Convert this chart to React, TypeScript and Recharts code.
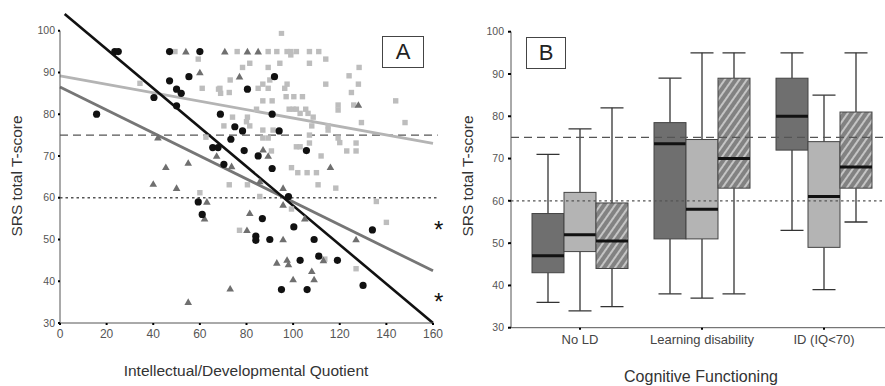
import React from 'react';
import {
  ScatterChart,
  Scatter,
  XAxis,
  YAxis,
  ReferenceLine,
  ComposedChart,
  Bar,
} from 'recharts';

// ---------- Panel A data ----------
const xTicksA = [0, 20, 40, 60, 80, 100, 120, 140, 160];
const yTicks = [30, 40, 50, 60, 70, 80, 90, 100];

const blackCircles: [number, number][] = [
  [15.7, 80], [23.5, 95], [25, 95], [40.3, 84], [47, 95], [60, 95], [47, 88], [50, 86],
  [52, 85], [50, 82], [55.3, 89], [65.5, 72], [67.8, 72], [68.8, 80], [92, 89], [80.4, 86],
  [91, 80], [75, 77], [78.3, 76], [94, 76], [73.3, 74], [70.3, 68], [79, 71.3], [85, 70],
  [105.7, 71.3], [91, 67], [98, 60.3], [59.3, 59], [61, 56], [86.8, 55], [84, 50.8],
  [84, 49.8], [90, 50], [100.3, 53], [109, 50], [103, 45], [111, 46], [119, 45], [95, 38],
  [106, 38], [130, 39], [134, 52.3],
];

const grayTriangles: [number, number][] = [
  [54, 95], [60, 90], [42, 74.4], [45.4, 67.3], [55, 68.3], [40, 63.3], [50, 62.3],
  [67.2, 70], [70.7, 95], [80.4, 95], [85, 95], [77, 89], [128, 82.2], [116, 67.3],
  [73.6, 67.5], [89.3, 70], [87.1, 71.5], [95.7, 62.3], [85.7, 63.9], [63, 59], [62, 55],
  [55, 35], [81.4, 56.3], [80.2, 52.2], [95.7, 58.3], [105, 55], [95.7, 50], [93, 44.4],
  [97.4, 45.1], [98, 44], [100, 40.4], [108, 42.4], [109, 40.4], [73, 38.2], [113, 45],
  [127, 50],
];

const lightSquares: [number, number][] = [
  [95, 99.4], [76, 95], [89.3, 95], [93, 95], [97.4, 95], [99, 95], [101.4, 95], [107, 95],
  [111, 95], [49.3, 95], [59.3, 93.2], [99, 94.2], [81.4, 92.2], [94.3, 92.2], [107, 92.2],
  [114, 93.2], [128.3, 91.2], [78.3, 91.2], [89.3, 91.2], [73, 88.2], [90, 88.2], [87, 87.2],
  [85, 86.2], [89.3, 86.2], [97.4, 87.2], [124, 89.2], [128, 87.2], [114, 87.2], [68.6, 86.2],
  [68.9, 85], [72.6, 85.2], [96.4, 86.2], [125, 85.2], [97, 84.2], [100.3, 84.2], [104, 84.2],
  [87, 83.2], [91, 83.2], [144, 83.2], [126, 82.2], [119.3, 82.2], [119.3, 81], [98.3, 81.2],
  [100, 81.2], [101.4, 81.2], [105.4, 81.2], [106.4, 80.2], [84.3, 81.2], [103, 80.2],
  [74, 79.3], [80.4, 79.3], [108.6, 79.3], [80, 78.2], [129.3, 78], [148, 78], [70.3, 77.2],
  [81.4, 77.2], [87, 76.2], [91.4, 76.2], [108, 77.2], [115, 77.2], [115, 76.2], [107, 75],
  [87, 74.3], [89.3, 74.3], [119.3, 74.3], [120, 73.2], [107, 73.1], [101.4, 72.2],
  [103, 72.2], [127, 73.1], [123, 71.2], [127, 71.2], [90.7, 71.2], [112, 70], [99.3, 67.2],
  [102, 66], [106, 66], [110, 66], [72.6, 63.1], [80.4, 63.1], [110.7, 63.1], [118.3, 62.3],
  [85.7, 60.3], [34.3, 87.4], [61, 86.2], [62.6, 74.5], [60, 61.2], [68, 86], [99.3, 57.3],
  [77, 52.2], [135.7, 59.1], [140, 54.1], [127, 43], [113.6, 45.3],
];

// regression line endpoints [x, y]
const blackLine: [number, number][] = [[2, 104], [160, 30]];
const darkLine: [number, number][] = [[0, 86.5], [160, 42.5]];
const lightLine: [number, number][] = [[0, 89.2], [160, 73]];

// ---------- Panel B data ----------
const categories = ['No LD', 'Learning disability', 'ID (IQ<70)'];
// [min, q1, median, q3, max]
const boxDark = [
  [36, 43, 47, 57, 71],
  [38, 51, 73.5, 78.5, 89],
  [53, 72, 80, 89, 95],
];
const boxLight = [
  [34, 48, 52, 62, 77],
  [37, 51, 58, 74.5, 95],
  [39, 49, 61, 74, 85],
];
const boxHatch = [
  [35, 44, 50.5, 59.5, 82],
  [38, 63, 70, 89, 95],
  [55, 63, 68, 81, 95],
];

const toPts = (arr: [number, number][]) => arr.map(([x, y]) => ({ x, y }));
const seg = (arr: [number, number][]) => arr.map(([x, y]) => ({ x, y }));

const boxRows = categories.map((name, i) => ({
  name,
  dark: boxDark[i],
  light: boxLight[i],
  hatch: boxHatch[i],
}));

const FONT = '"Liberation Sans", Arial, Helvetica, sans-serif';

function makeBoxShape(key: 'dark' | 'light' | 'hatch', fill: string) {
  return (props: any) => {
    const { x, y, width, height, payload } = props;
    const vals: number[] = payload[key];
    const [mn, q1, md, q3, mx] = vals;
    const top = Math.min(y, y + height);
    const bot = Math.max(y, y + height);
    const py = (v: number) => bot - ((v - mn) / (mx - mn)) * (bot - top);
    const cx = x + width / 2;
    const capW = 23;
    const wc = '#333';
    return (
      <g>
        <line x1={cx} x2={cx} y1={py(mx)} y2={py(q3)} stroke={wc} strokeWidth={1.3} />
        <line x1={cx} x2={cx} y1={py(q1)} y2={py(mn)} stroke={wc} strokeWidth={1.3} />
        <line x1={cx - capW / 2} x2={cx + capW / 2} y1={py(mx)} y2={py(mx)} stroke={wc} strokeWidth={1.3} />
        <line x1={cx - capW / 2} x2={cx + capW / 2} y1={py(mn)} y2={py(mn)} stroke={wc} strokeWidth={1.3} />
        <rect x={x} y={py(q3)} width={width} height={py(q1) - py(q3)} fill={fill} stroke="#444" strokeWidth={1} />
        <line x1={x} x2={x + width} y1={py(md)} y2={py(md)} stroke="#111" strokeWidth={3} />
      </g>
    );
  };
}

const circleShape = (p: any) => <circle cx={p.cx} cy={p.cy} r={3.6} fill="#111" />;
const triShape = (p: any) => (
  <polygon
    points={`${p.cx},${p.cy - 3.8} ${p.cx + 3.8},${p.cy + 2.8} ${p.cx - 3.8},${p.cy + 2.8}`}
    fill="#6f6f6f"
  />
);
const sqShape = (p: any) => <rect x={p.cx - 2.7} y={p.cy - 2.7} width={5.4} height={5.4} fill="#bdbdbd" />;

const axisTitle: React.CSSProperties = {
  position: 'absolute',
  whiteSpace: 'nowrap',
  color: '#333',
  fontSize: 15.5,
  lineHeight: '17px',
  fontFamily: FONT,
  transform: 'translate(-50%, -50%)',
};

export default function App() {
  return (
    <div
      style={{
        position: 'absolute',
        left: 0,
        top: 0,
        width: 885,
        height: 386,
        background: '#fff',
        fontFamily: FONT,
        overflow: 'hidden',
      }}
    >
      <svg width={0} height={0} style={{ position: 'absolute' }}>
        <defs>
          <pattern id="hatch" patternUnits="userSpaceOnUse" width={6} height={6} patternTransform="rotate(35)">
            <rect width={6} height={6} fill="#828282" />
            <line x1={3} y1={0} x2={3} y2={6} stroke="#f2f2f2" strokeWidth={1.2} />
          </pattern>
        </defs>
      </svg>

      {/* Panel A */}
      <div style={{ position: 'absolute', left: 0, top: 0 }}>
        <ScatterChart width={445} height={386} margin={{ top: 30.7, right: 12, bottom: 38, left: 0 }}>
          <XAxis
            type="number"
            dataKey="x"
            domain={[0, 160]}
            ticks={xTicksA}
            allowDataOverflow
            height={25}
            tickSize={2}
            tickMargin={4}
            axisLine={{ stroke: '#555' }}
            tickLine={{ stroke: '#000', strokeWidth: 2 }}
            tick={{ fill: '#555', fontSize: 12 }}
          />
          <YAxis
            type="number"
            dataKey="y"
            domain={[30, 100]}
            ticks={yTicks}
            allowDataOverflow
            width={60}
            tickSize={2}
            tickMargin={3}
            axisLine={{ stroke: '#555' }}
            tickLine={{ stroke: '#000', strokeWidth: 2 }}
            tick={{ fill: '#555', fontSize: 10.5 }}
          />
          <ReferenceLine
            segment={[{ x: 0, y: 75 }, { x: 162, y: 75 }]}
            stroke="#555"
            strokeDasharray="8 5"
            strokeWidth={1.2}
            ifOverflow="visible"
          />
          <ReferenceLine
            segment={[{ x: 0, y: 60 }, { x: 162, y: 60 }]}
            stroke="#555"
            strokeDasharray="2.5 3"
            strokeWidth={1.3}
            ifOverflow="visible"
          />
          <Scatter data={toPts(lightSquares)} shape={sqShape} isAnimationActive={false} />
          <Scatter data={toPts(grayTriangles)} shape={triShape} isAnimationActive={false} />
          <Scatter data={toPts(blackCircles)} shape={circleShape} isAnimationActive={false} />
          <ReferenceLine segment={seg(lightLine)} stroke="#b4b4b4" strokeWidth={2.8} ifOverflow="visible" />
          <ReferenceLine segment={seg(darkLine)} stroke="#767676" strokeWidth={2.8} ifOverflow="visible" />
          <ReferenceLine segment={seg(blackLine)} stroke="#111" strokeWidth={2.6} ifOverflow="visible" />
        </ScatterChart>
      </div>

      {/* Panel B */}
      <div style={{ position: 'absolute', left: 440, top: 0 }}>
        <ComposedChart
          width={445}
          height={386}
          data={boxRows}
          barGap={0}
          margin={{ top: 31.7, right: 0, bottom: 33.3, left: 0 }}
        >
          <XAxis
            type="category"
            dataKey="name"
            padding={{ left: 8, right: 0 }}
            height={25}
            tickSize={2}
            tickMargin={5}
            axisLine={{ stroke: '#555' }}
            tickLine={{ stroke: '#000', strokeWidth: 2 }}
            tick={{ fill: '#444', fontSize: 13 }}
          />
          <YAxis
            type="number"
            domain={[30, 100]}
            ticks={yTicks}
            allowDataOverflow
            width={71}
            tickSize={3}
            tickMargin={4}
            axisLine={{ stroke: '#555' }}
            tickLine={{ stroke: '#000', strokeWidth: 2 }}
            tick={{ fill: '#555', fontSize: 10.5 }}
          />
          <Bar
            dataKey={(d: any) => [d.dark[0], d.dark[4]]}
            barSize={32}
            shape={makeBoxShape('dark', '#6f6f6f')}
            isAnimationActive={false}
          />
          <Bar
            dataKey={(d: any) => [d.light[0], d.light[4]]}
            barSize={32}
            shape={makeBoxShape('light', '#b4b4b4')}
            isAnimationActive={false}
          />
          <Bar
            dataKey={(d: any) => [d.hatch[0], d.hatch[4]]}
            barSize={32}
            shape={makeBoxShape('hatch', 'url(#hatch)')}
            isAnimationActive={false}
          />
          <ReferenceLine y={75} stroke="#555" strokeDasharray="8 5" strokeWidth={1.2} />
          <ReferenceLine y={60} stroke="#555" strokeDasharray="2.5 3" strokeWidth={1.3} />
        </ComposedChart>
      </div>

      {/* Titles and annotations */}
      <div style={{ ...axisTitle, left: 16, top: 176, transform: 'translate(-50%, -50%) rotate(-90deg)' }}>
        SRS total T-score
      </div>
      <div style={{ ...axisTitle, left: 246, top: 370 }}>Intellectual/Developmental Quotient</div>
      <div style={{ ...axisTitle, left: 467, top: 176, transform: 'translate(-50%, -50%) rotate(-90deg)' }}>
        SRS total T-score
      </div>
      <div style={{ ...axisTitle, left: 701, top: 376, fontSize: 16 }}>Cognitive Functioning</div>

      <div
        style={{
          position: 'absolute',
          left: 382,
          top: 36,
          width: 42,
          height: 32,
          boxSizing: 'border-box',
          border: '1px solid #444',
          background: '#fff',
          fontSize: 22,
          lineHeight: '30px',
          textAlign: 'center',
          color: '#222',
        }}
      >
        A
      </div>
      <div
        style={{
          position: 'absolute',
          left: 526,
          top: 37,
          width: 40,
          height: 32,
          boxSizing: 'border-box',
          border: '1px solid #444',
          background: '#fff',
          fontSize: 22,
          lineHeight: '30px',
          textAlign: 'center',
          color: '#222',
        }}
      >
        B
      </div>
      <div style={{ position: 'absolute', left: 434, top: 218, fontSize: 24, color: '#111', lineHeight: '24px' }}>*</div>
      <div style={{ position: 'absolute', left: 434, top: 290, fontSize: 24, color: '#111', lineHeight: '24px' }}>*</div>
    </div>
  );
}
